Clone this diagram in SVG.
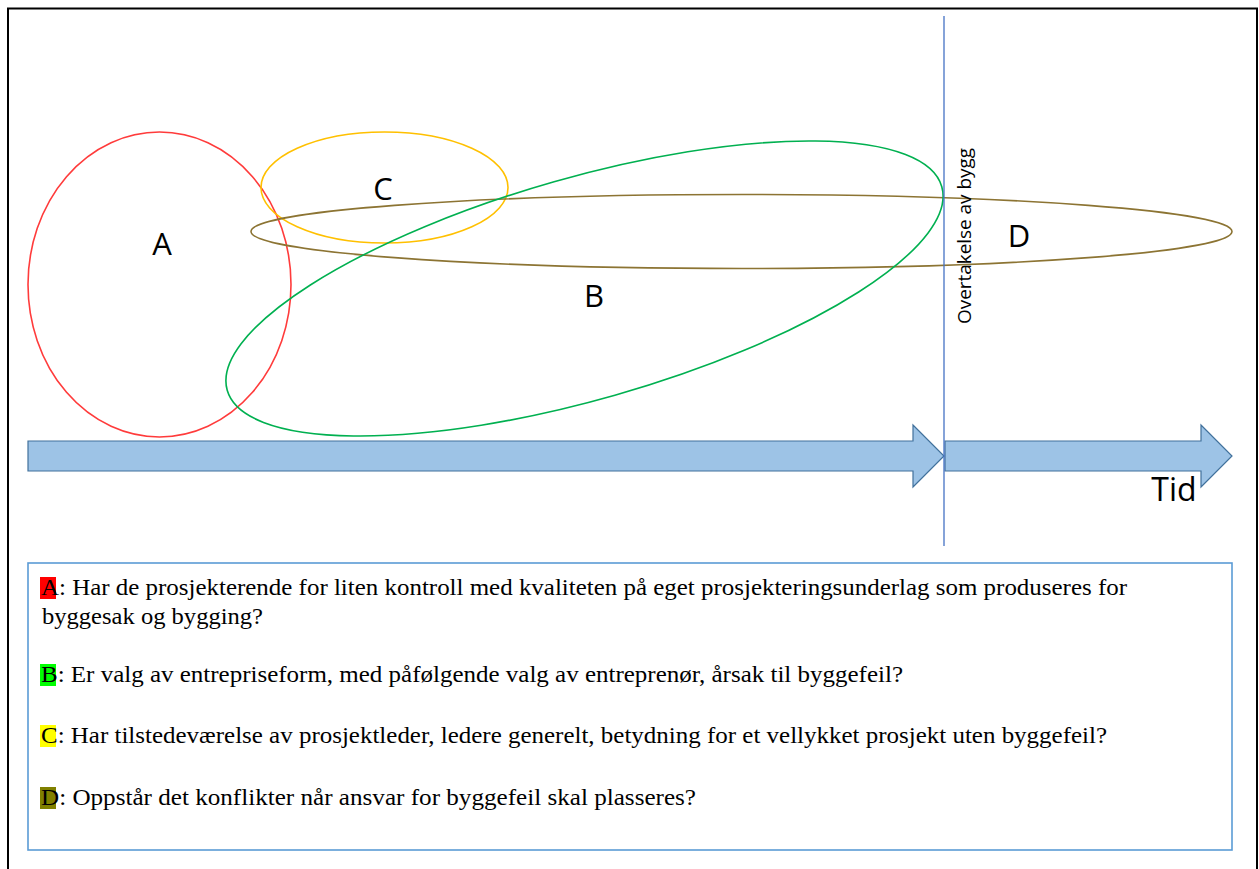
<svg xmlns="http://www.w3.org/2000/svg" width="1259" height="869" viewBox="0 0 1259 869">
  <style>
    .area { fill: none; stroke-width: 1.6; }
    .lbl { font-family: "Open Sans", "Liberation Sans", sans-serif; font-size: 31px; fill: #000; text-anchor: middle; }
    .arrow { fill: #9DC3E6; stroke: #41719C; stroke-width: 1.2; stroke-linejoin: miter; }
    .q { font-family: "Liberation Serif", "Times New Roman", serif; font-size: 23.5px; fill: #000; }
  </style>

  <rect width="1259" height="869" fill="#fff"/>
  <!-- outer frame -->
  <rect x="8" y="8.5" width="1249" height="900" fill="none" stroke="#000" stroke-width="2"/>

  <!-- problem areas -->
  <g id="node-A">
    <ellipse class="area" cx="159.5" cy="284.5" rx="131.5" ry="152.5" stroke="#FF3B3B"/>
    <text class="lbl" x="162" y="255">A</text>
  </g>
  <g id="node-C">
    <ellipse class="area" cx="384.5" cy="187.5" rx="123.5" ry="55.5" stroke="#FFC000"/>
    <text class="lbl" x="383" y="200">C</text>
  </g>
  <g id="node-D">
    <ellipse class="area" cx="741.5" cy="231.5" rx="490.5" ry="37" stroke="#8C7433"/>
    <text class="lbl" x="1019" y="247">D</text>
  </g>
  <g id="node-B">
    <ellipse class="area" cx="584.5" cy="288.5" rx="371.5" ry="111" stroke="#00B050" transform="rotate(-15.9 584.5 288.5)"/>
    <text class="lbl" x="594" y="307">B</text>
  </g>

  <!-- time axis -->
  <g id="timeline">
    <polygon class="arrow" points="28,441 913,441 913,425 944,456 913,487 913,471 28,471"/>
    <polygon class="arrow" points="945,441 1201,441 1201,425 1232,456 1201,487 1201,471 945,471"/>
    <text class="lbl" x="1174" y="501" style="font-size:32px">Tid</text>
  </g>

  <!-- handover marker -->
  <g id="handover">
    <line x1="944" y1="16" x2="944" y2="546" stroke="#4472C4" stroke-width="1.3"/>
    <text x="0" y="0" transform="translate(970.5 324) rotate(-90)" style="font-family:'Open Sans','Liberation Sans',sans-serif;font-size:18px" textLength="176" lengthAdjust="spacingAndGlyphs">Overtakelse av bygg</text>
  </g>

  <!-- connectors (none drawn) -->
  <g id="connectors"/>

  <!-- legend with questions -->
  <g id="legend">
    <rect x="28" y="563" width="1204" height="287" fill="none" stroke="#5B9BD5" stroke-width="1.6"/>
    <rect x="40" y="577" width="16" height="22" fill="#FF0000"/>
    <rect x="40" y="664" width="16" height="22" fill="#00FF00"/>
    <rect x="40" y="725" width="16" height="22" fill="#FFFF00"/>
    <rect x="40" y="787" width="16" height="22" fill="#808000"/>
    <text class="q" x="41" y="595" textLength="1086" lengthAdjust="spacingAndGlyphs">A: Har de prosjekterende for liten kontroll med kvaliteten på eget prosjekteringsunderlag som produseres for</text>
    <text class="q" x="42" y="624" textLength="221" lengthAdjust="spacingAndGlyphs">byggesak og bygging?</text>
    <text class="q" x="41" y="682" textLength="862" lengthAdjust="spacingAndGlyphs">B: Er valg av entrepriseform, med påfølgende valg av entreprenør, årsak til byggefeil?</text>
    <text class="q" x="41" y="743" textLength="1066" lengthAdjust="spacingAndGlyphs">C: Har tilstedeværelse av prosjektleder, ledere generelt, betydning for et vellykket prosjekt uten byggefeil?</text>
    <text class="q" x="41" y="805" textLength="655" lengthAdjust="spacingAndGlyphs">D: Oppstår det konflikter når ansvar for byggefeil skal plasseres?</text>
  </g>
</svg>
